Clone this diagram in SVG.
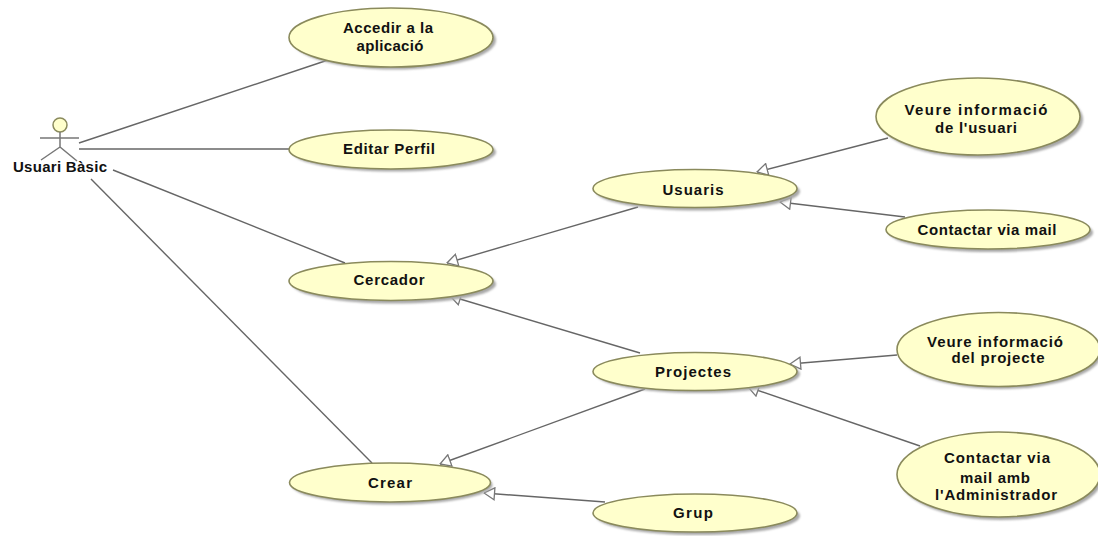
<svg xmlns="http://www.w3.org/2000/svg" width="1098" height="536" viewBox="0 0 1098 536">
<style>
.uc{fill:#ffffcc;stroke:#8a8a5c;stroke-width:1.6}
.sh{fill:#a8a8a8;filter:url(#b)}
.t{font-family:"Liberation Sans",Arial,sans-serif;font-weight:bold;font-size:15px;fill:#111;text-anchor:middle}
.c{stroke:#666;stroke-width:1.4;fill:none}
.g{stroke:#666;stroke-width:1.4;fill:none;marker-end:url(#tri)}
</style>
<defs>
<filter id="b" x="-10%" y="-20%" width="120%" height="140%"><feGaussianBlur stdDeviation="1"/></filter>
<marker id="tri" viewBox="0 0 12 14" refX="11.5" refY="7" markerWidth="12" markerHeight="14" markerUnits="userSpaceOnUse" orient="auto">
<path d="M1 1L11.5 7L1 13Z" fill="#fff" stroke="#777" stroke-width="1.3"/>
</marker>
</defs>
<rect width="1098" height="536" fill="#fff"/>
<g id="connectors">
<path class="c" d="M79 143L328 60"/>
<path class="c" d="M79 149H289"/>
<path class="c" d="M113 170L345 263"/>
<path class="c" d="M91 179L372 463"/>
<path class="g" d="M888 138L757 172"/>
<path class="g" d="M905 217L780 202"/>
<path class="g" d="M638 207L447 263"/>
<path class="g" d="M640 353L450 296"/>
<path class="g" d="M897 355L790 364"/>
<path class="g" d="M920 446L748 387"/>
<path class="g" d="M645 389L440 464"/>
<path class="g" d="M605 502L484 493"/>
</g>
<g id="actor">
<circle cx="60" cy="125" r="7" fill="#ffffcc" stroke="#8a8a5c" stroke-width="1.5"/>
<path d="M60 132V147M40 138H79M60 147L41 160M60 147L77 161" stroke="#777" stroke-width="1.5" fill="none"/>
<text class="t" x="60" y="172" textLength="94">Usuari Bàsic</text>
</g>
<g id="accedir"><ellipse class="sh" cx="394" cy="40" rx="102" ry="29.5"/><ellipse class="uc" cx="391" cy="37.5" rx="102" ry="29.5"/><text class="t" x="388" y="33" textLength="90">Accedir a la</text><text class="t" x="390" y="51" textLength="67">aplicació</text></g>
<g id="editar"><ellipse class="sh" cx="394" cy="152" rx="102" ry="19.5"/><ellipse class="uc" cx="391" cy="149.5" rx="102" ry="19.5"/><text class="t" x="389" y="154" textLength="92">Editar Perfil</text></g>
<g id="cercador"><ellipse class="sh" cx="394" cy="284" rx="102" ry="19.5"/><ellipse class="uc" cx="391" cy="281" rx="102" ry="19.5"/><text class="t" x="389" y="285" textLength="71">Cercador</text></g>
<g id="crear"><ellipse class="sh" cx="392" cy="485" rx="100.5" ry="19.5"/><ellipse class="uc" cx="390" cy="482.5" rx="100.5" ry="19.5"/><text class="t" x="390" y="488" textLength="44">Crear</text></g>
<g id="usuaris"><ellipse class="sh" cx="698" cy="191.5" rx="102" ry="19"/><ellipse class="uc" cx="695" cy="188.5" rx="102" ry="19"/><text class="t" x="693" y="195" textLength="61">Usuaris</text></g>
<g id="projectes"><ellipse class="sh" cx="698" cy="374" rx="102" ry="19"/><ellipse class="uc" cx="695" cy="371.5" rx="102" ry="19"/><text class="t" x="693" y="377" textLength="76">Projectes</text></g>
<g id="grup"><ellipse class="sh" cx="698" cy="516" rx="102" ry="19"/><ellipse class="uc" cx="695" cy="513" rx="102" ry="19"/><text class="t" x="693" y="518" textLength="40">Grup</text></g>
<g id="veure-usuari"><ellipse class="sh" cx="981" cy="119.5" rx="102" ry="38.5"/><ellipse class="uc" cx="978" cy="116.5" rx="102" ry="38.5"/><text class="t" x="976" y="115" textLength="143">Veure informació</text><text class="t" x="976" y="133" textLength="82">de l'usuari</text></g>
<g id="contactar-mail"><ellipse class="sh" cx="991" cy="232.5" rx="102" ry="19.5"/><ellipse class="uc" cx="988" cy="229.5" rx="102" ry="19.5"/><text class="t" x="987" y="235" textLength="139">Contactar via mail</text></g>
<g id="veure-projecte"><ellipse class="sh" cx="1001" cy="352" rx="101.5" ry="37"/><ellipse class="uc" cx="998.5" cy="349.5" rx="101.5" ry="37"/><text class="t" x="995" y="347" textLength="136">Veure informació</text><text class="t" x="998" y="363" textLength="93">del projecte</text></g>
<g id="contactar-admin"><ellipse class="sh" cx="1001" cy="477.5" rx="101.5" ry="42.5"/><ellipse class="uc" cx="998.5" cy="474.5" rx="101.5" ry="42.5"/><text class="t" x="997" y="463" textLength="106">Contactar via</text><text class="t" x="995" y="483" textLength="70">mail amb</text><text class="t" x="996" y="500" textLength="122">l'Administrador</text></g>
</svg>
